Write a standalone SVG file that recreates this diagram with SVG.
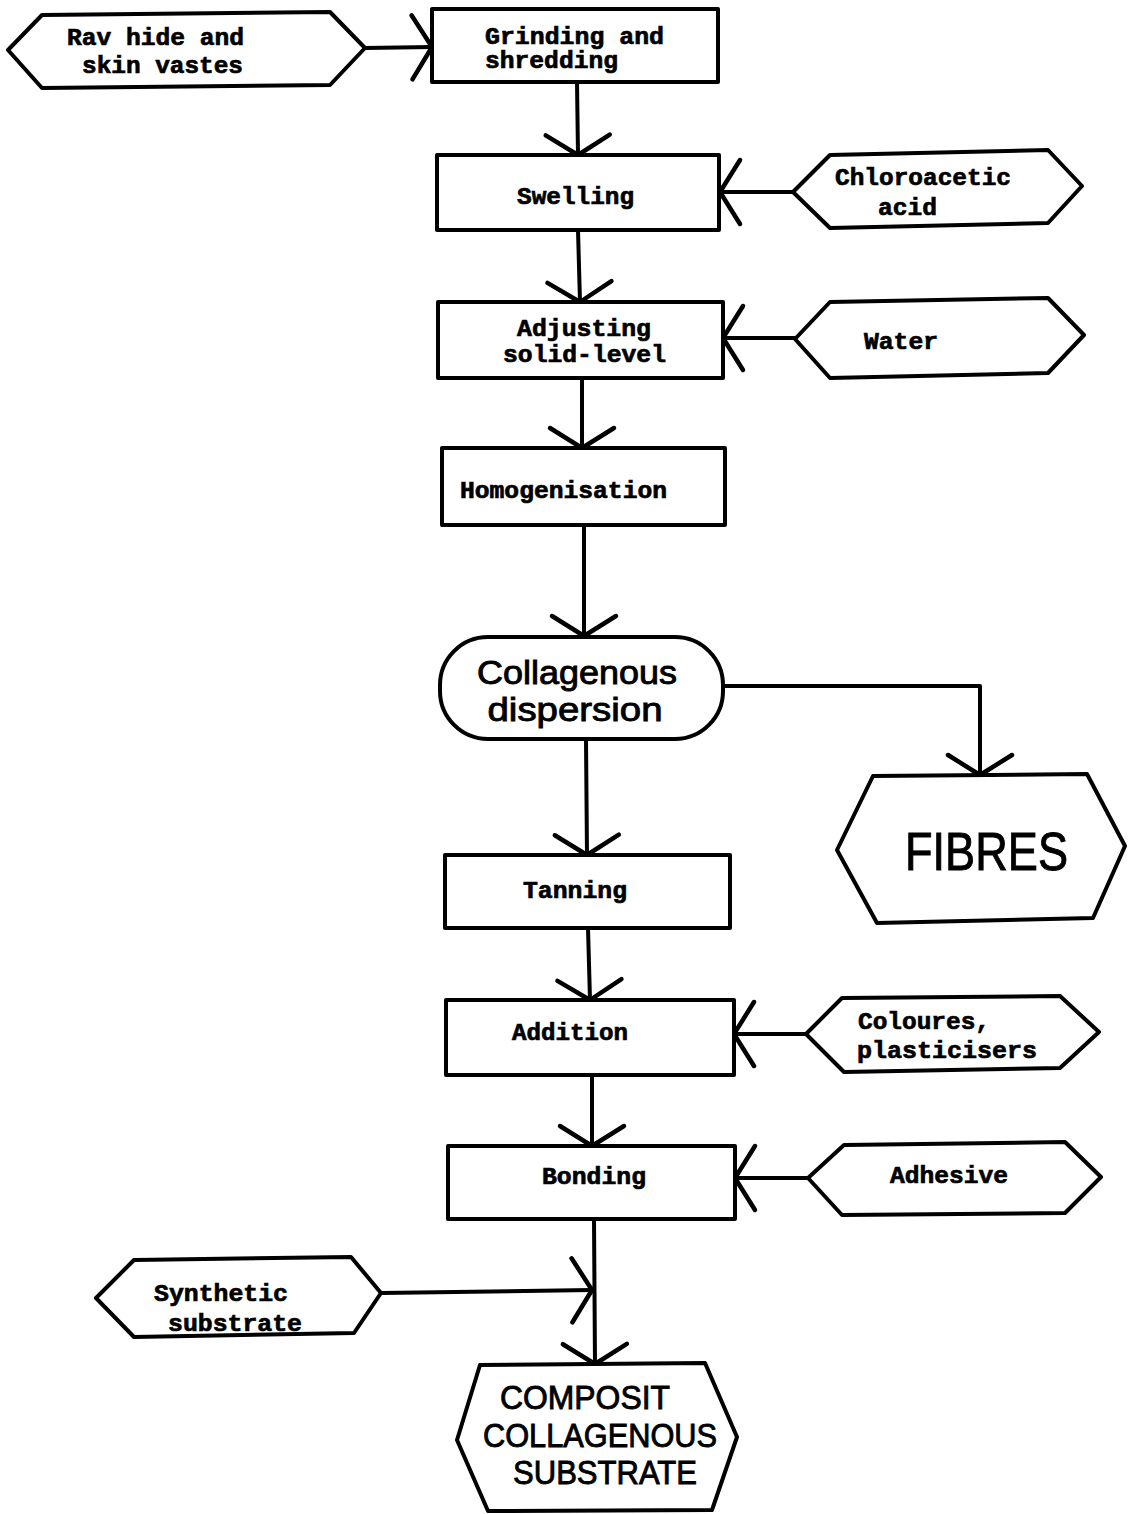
<svg xmlns="http://www.w3.org/2000/svg" width="1129" height="1514" viewBox="0 0 1129 1514">
  <style>
    .box { fill: #fff; stroke: #000; stroke-width: 4; stroke-linejoin: round; }
    .con { fill: none; stroke: #000; stroke-width: 4; stroke-linecap: round; stroke-linejoin: round; }
    .tw { font-family: "Liberation Mono", "DejaVu Sans Mono", monospace; font-weight: bold; font-size: 24px; fill: #000; stroke: #000; stroke-width: 0.7; }
    .sf { font-family: "Liberation Sans", Arial, sans-serif; fill: #000; stroke: #000; stroke-width: 0.9; }
  </style>
  <defs>
    <marker id="chev" markerUnits="userSpaceOnUse" markerWidth="60" markerHeight="80" viewBox="-24 -40 30 80" refX="0" refY="0" orient="auto">
      <path d="M-20,-32 L0,0 L-20,32" fill="none" stroke="#000" stroke-width="4.5" stroke-linecap="round" stroke-linejoin="round"/>
    </marker>
  </defs>
  <rect width="1129" height="1514" fill="#fff"/>

  <!-- connectors -->
  <g id="connectors">
    <path class="con" d="M365,48 L432,47" marker-end="url(#chev)"/>
    <path class="con" d="M577,82 L578,155" marker-end="url(#chev)"/>
    <path class="con" d="M793,192 L720,192" marker-end="url(#chev)"/>
    <path class="con" d="M578,230 L580,302" marker-end="url(#chev)"/>
    <path class="con" d="M795,338 L723,338" marker-end="url(#chev)"/>
    <path class="con" d="M582,378 L582,448" marker-end="url(#chev)"/>
    <path class="con" d="M584,525 L584,636" marker-end="url(#chev)"/>
    <path class="con" d="M722,686 L980,686 L980,775" marker-end="url(#chev)"/>
    <path class="con" d="M586,739 L587,855" marker-end="url(#chev)"/>
    <path class="con" d="M588,928 L590,1000" marker-end="url(#chev)"/>
    <path class="con" d="M806,1034 L734,1034" marker-end="url(#chev)"/>
    <path class="con" d="M592,1075 L592,1146" marker-end="url(#chev)"/>
    <path class="con" d="M808,1178 L735,1178" marker-end="url(#chev)"/>
    <path class="con" d="M381,1293 L592,1290" marker-end="url(#chev)"/>
    <path class="con" d="M594,1219 L595,1364" marker-end="url(#chev)"/>
  </g>

  <!-- inputs -->
  <g id="raw-hide">
    <polygon class="box" points="8,50 42,15 330,12 365,48 330,85 42,88"/>
    <text class="tw" x="67" y="45" textLength="177" lengthAdjust="spacingAndGlyphs">Rav hide and</text>
    <text class="tw" x="82" y="73" textLength="161" lengthAdjust="spacingAndGlyphs">skin vastes</text>
  </g>
  <g id="chloroacetic-acid">
    <polygon class="box" points="793,192 830,155 1048,150 1082,186 1048,223 830,228"/>
    <text class="tw" x="835" y="185" textLength="176" lengthAdjust="spacingAndGlyphs">Chloroacetic</text>
    <text class="tw" x="878" y="215" textLength="59" lengthAdjust="spacingAndGlyphs">acid</text>
  </g>
  <g id="water">
    <polygon class="box" points="795,339 830,302 1048,298 1084,335 1048,373 830,378"/>
    <text class="tw" x="864" y="349" textLength="74" lengthAdjust="spacingAndGlyphs">Water</text>
  </g>
  <g id="colours-plasticisers">
    <polygon class="box" points="806,1034 842,998 1060,996 1099,1032 1060,1068 844,1072"/>
    <text class="tw" x="858" y="1029" textLength="132" lengthAdjust="spacingAndGlyphs">Coloures,</text>
    <text class="tw" x="857" y="1058" textLength="180" lengthAdjust="spacingAndGlyphs">plasticisers</text>
  </g>
  <g id="adhesive">
    <polygon class="box" points="808,1178 844,1145 1065,1142 1101,1177 1065,1213 842,1215"/>
    <text class="tw" x="890" y="1183" textLength="118" lengthAdjust="spacingAndGlyphs">Adhesive</text>
  </g>
  <g id="synthetic-substrate">
    <polygon class="box" points="96,1298 134,1260 351,1257 381,1293 354,1333 134,1337"/>
    <text class="tw" x="154" y="1301" textLength="134" lengthAdjust="spacingAndGlyphs">Synthetic</text>
    <text class="tw" x="168" y="1331" textLength="134" lengthAdjust="spacingAndGlyphs">substrate</text>
  </g>

  <!-- process steps -->
  <g id="grinding">
    <rect class="box" x="432" y="9" width="286" height="73"/>
    <text class="tw" x="485" y="44" textLength="179" lengthAdjust="spacingAndGlyphs">Grinding and</text>
    <text class="tw" x="485" y="68" textLength="133" lengthAdjust="spacingAndGlyphs">shredding</text>
  </g>
  <g id="swelling">
    <rect class="box" x="437" y="155" width="282" height="75"/>
    <text class="tw" x="517" y="204" textLength="117" lengthAdjust="spacingAndGlyphs">Swelling</text>
  </g>
  <g id="adjusting">
    <rect class="box" x="438" y="302" width="285" height="76"/>
    <text class="tw" x="517" y="336" textLength="134" lengthAdjust="spacingAndGlyphs">Adjusting</text>
    <text class="tw" x="503" y="362" textLength="163" lengthAdjust="spacingAndGlyphs">solid-level</text>
  </g>
  <g id="homogenisation">
    <rect class="box" x="442" y="448" width="283" height="77"/>
    <text class="tw" x="460" y="498" textLength="207" lengthAdjust="spacingAndGlyphs">Homogenisation</text>
  </g>
  <g id="collagenous-dispersion">
    <rect class="box" x="440" y="637" width="283" height="102" rx="48" ry="48"/>
    <text class="sf" x="577" y="684" font-size="33" text-anchor="middle" textLength="200" lengthAdjust="spacingAndGlyphs">Collagenous</text>
    <text class="sf" x="575" y="721" font-size="33" text-anchor="middle" textLength="175" lengthAdjust="spacingAndGlyphs">dispersion</text>
  </g>
  <g id="fibres">
    <polygon class="box" points="837,850 873,776 1087,774 1125,846 1093,918 877,923"/>
    <text class="sf" x="905" y="870" font-size="53" textLength="163" lengthAdjust="spacingAndGlyphs">FIBRES</text>
  </g>
  <g id="tanning">
    <rect class="box" x="445" y="855" width="285" height="73"/>
    <text class="tw" x="523" y="898" textLength="104" lengthAdjust="spacingAndGlyphs">Tanning</text>
  </g>
  <g id="addition">
    <rect class="box" x="446" y="1000" width="288" height="75"/>
    <text class="tw" x="512" y="1040" textLength="116" lengthAdjust="spacingAndGlyphs">Addition</text>
  </g>
  <g id="bonding">
    <rect class="box" x="448" y="1146" width="287" height="73"/>
    <text class="tw" x="542" y="1184" textLength="104" lengthAdjust="spacingAndGlyphs">Bonding</text>
  </g>
  <g id="composit">
    <polygon class="box" points="457,1440 480,1365 705,1363 737,1437 712,1510 488,1511"/>
    <text class="sf" x="500" y="1409" font-size="33" textLength="170" lengthAdjust="spacingAndGlyphs">COMPOSIT</text>
    <text class="sf" x="483" y="1447" font-size="33" textLength="234" lengthAdjust="spacingAndGlyphs">COLLAGENOUS</text>
    <text class="sf" x="513" y="1484" font-size="33" textLength="184" lengthAdjust="spacingAndGlyphs">SUBSTRATE</text>
  </g>
</svg>
